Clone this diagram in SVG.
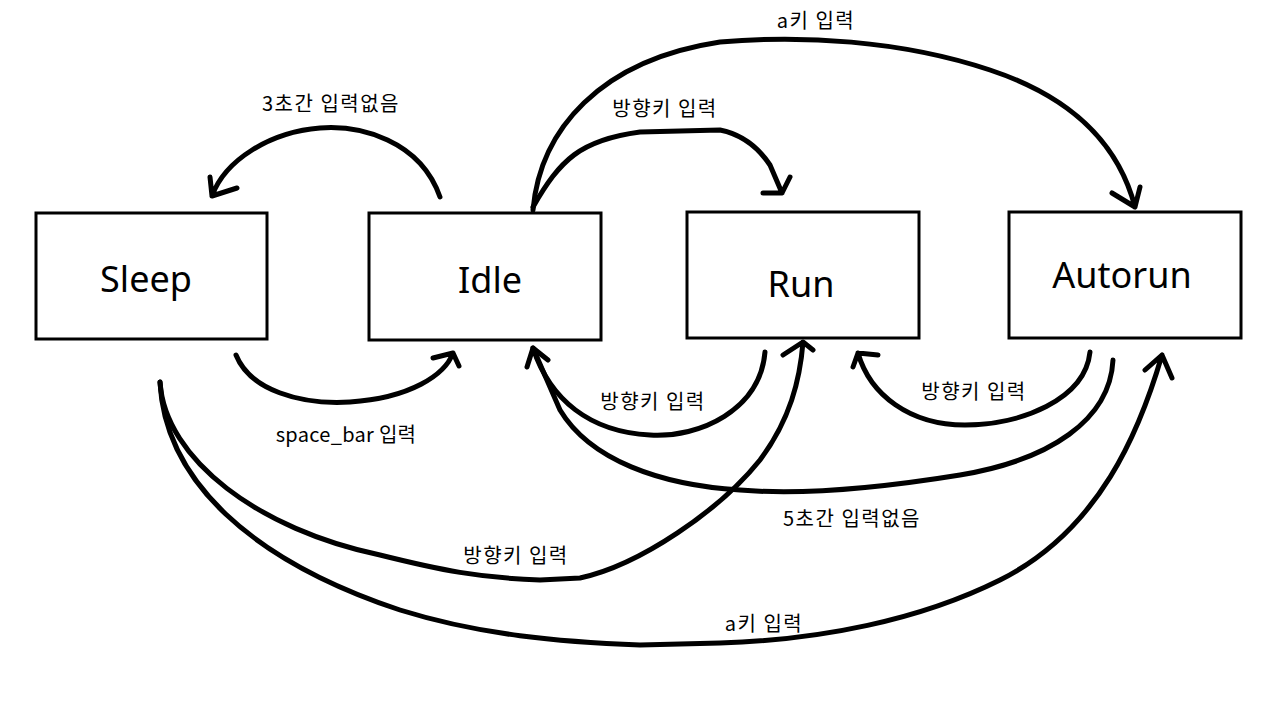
<svg xmlns="http://www.w3.org/2000/svg" width="1280" height="720" viewBox="0 0 1280 720">
<style>
.box{fill:#fff;stroke:#000;stroke-width:3}
.name{font-family:"Noto Sans","Noto Sans CJK KR",sans-serif;font-size:36px;fill:#000;text-anchor:middle}
.lbl{font-family:"Noto Sans CJK KR","Noto Sans",sans-serif;font-size:20px;letter-spacing:1.5px;fill:#000;text-anchor:middle}
.lbl2{font-family:"Noto Sans CJK KR","Noto Sans",sans-serif;font-size:20px;letter-spacing:0.3px;fill:#000;text-anchor:middle}
.c{fill:none;stroke:#000;stroke-width:5;stroke-linecap:round;stroke-linejoin:round}
</style>
<rect width="1280" height="720" fill="#fff"/>
<g id="sleep"><rect class="box" x="36" y="213" width="231" height="126"/><text class="name" x="146" y="292">Sleep</text></g>
<g id="idle"><rect class="box" x="369" y="213" width="232" height="127"/><text class="name" x="490" y="293">Idle</text></g>
<g id="run"><rect class="box" x="687" y="212" width="232" height="126"/><text class="name" x="801" y="297">Run</text></g>
<g id="autorun"><rect class="box" x="1009" y="212" width="232" height="126"/><text class="name" x="1122" y="288">Autorun</text></g>
<g id="connectors">
<path class="c" d="M440,197 C420,140 360,125 320,128 C270,132 225,160 212,196 M210,177 L212,196 L237,188"/>
<path class="c" d="M533,207 C560,160 580,140 640,132 L720,130 C745,135 760,150 770,165 L782,193 M763,193 L782,193 L790,177"/>
<path class="c" d="M533,210 C540,130 600,60 720,42 C800,35 900,40 990,70 C1080,100 1120,150 1135,207 M1112,193 L1135,207 L1140,187"/>
<path class="c" d="M236,355 C250,390 300,405 350,402 C410,398 445,375 453,353 M433,358 L453,353 L459,366"/>
<path class="c" d="M765,352 C760,410 700,438 650,435 C590,432 550,400 533,348 M527,367 L533,348 L548,360"/>
<path class="c" d="M1090,352 C1085,400 1020,425 965,425 C910,425 870,395 858,353 M853,367 L858,353 L878,355"/>
<path class="c" d="M1113,360 C1110,420 1050,460 960,475 C880,488 800,495 740,490 C660,485 590,460 560,410 L533,348"/>
<path class="c" d="M160,382 C165,460 260,530 380,555 C440,570 480,578 540,580 L580,578 C640,565 720,510 760,460 C790,420 800,380 803,342 M783,355 L803,342 L813,350"/>
<path class="c" d="M160,382 C165,480 250,560 400,610 C480,635 560,642 640,645 L720,643 C820,640 920,620 1000,580 C1100,530 1140,430 1162,355 M1145,370 L1162,355 L1172,378"/>
<text class="lbl" x="331" y="111">3초간 입력없음</text>
<text class="lbl" x="816" y="28">a키 입력</text>
<text class="lbl" x="665" y="116">방향키 입력</text>
<text class="lbl2" x="346" y="442">space_bar 입력</text>
<text class="lbl" x="653" y="409">방향키 입력</text>
<text class="lbl" x="974" y="399">방향키 입력</text>
<text class="lbl" x="852" y="526">5초간 입력없음</text>
<text class="lbl" x="516" y="563">방향키 입력</text>
<text class="lbl" x="764" y="631">a키 입력</text>
</g>
</svg>
